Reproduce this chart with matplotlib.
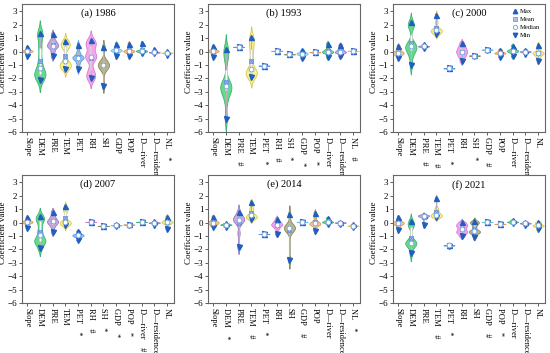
import numpy as np
import matplotlib
matplotlib.use("Agg")
import matplotlib.pyplot as plt
from matplotlib.lines import Line2D
from matplotlib.patches import Rectangle

plt.rcParams['font.family'] = ['Liberation Serif', 'DejaVu Serif']

variables = ["Slope", "DEM", "PRE", "TEM", "PET", "RH", "SH", "GDP", "POP",
             "D\u2014river", "D\u2014residence", "NL"]
titles = ["(a) 1986", "(b) 1993", "(c) 2000", "(d) 2007", "(e) 2014", "(f) 2021"]

# significance markers appended under each tick label
sig_1986 = ["", "", "", "", "", "", "", "", "", "", "", "*"]
sig_1993 = ["", "", "#", "", "*", "#", "*", "*", "*", "", "", "#"]
sig_2000 = ["", "", "#", "#", "*", "", "*", "#", "", "", "", ""]
sig_2007 = ["", "", "", "", "*", "#", "*", "*", "*", "#", "", ""]
sig_2014 = ["", "*", "", "#", "*", "", "", "#", "", "", "", "*"]
sig_2021 = ["", "", "", "#", "*", "", "", "#", "*", "", "", ""]

# coefficient samples per variable
coef_1986 = [
    [0.35, 0.1, 0.05, 0.05, 0.0, -0.05, -0.3],
    [1.4, 1.2, 0.3, -0.6, -1.25, -1.6, -1.7, -1.8, -2.1],
    [1.3, 0.9, 0.7, 0.6, 0.45, 0.4, 0.3, 0.0, -0.35],
    [0.8, 0.6, 0.45, 0.3, -0.7, -0.9, -1.05, -1.1, -1.3],
    [0.5, 0.0, -0.3, -0.4, -0.45, -0.5, -0.6, -0.9, -1.3],
    [0.85, 0.6, 0.4, -0.2, -0.4, -0.5, -1.4, -1.8, -2.0],
    [0.35, -0.6, -0.8, -0.9, -1.0, -1.1, -1.2, -1.4, -2.55],
    [0.6, 0.3, 0.15, 0.1, 0.1, 0.05, -0.05, -0.35],
    [0.6, 0.3, 0.1, 0.05, 0.05, 0.0, -0.1, -0.35],
    [0.65, 0.1, 0.05, 0.05, 0.05, 0.05, 0.0, -0.1],
    [0.2, 0.0, -0.03, -0.05, -0.05, -0.07, -0.1],
    [0.05, -0.05, -0.08, -0.1, -0.1, -0.12, -0.25],
]
coef_1993 = [
    [0.4, 0.2, 0.1, 0.05, 0.05, 0.0, -0.1, -0.4],
    [0.2, 0.0, -0.6, -2.2, -2.5, -2.6, -2.7, -2.8, -3.0, -3.6, -5.0],
    [0.36, 0.35, 0.35, 0.34],
    [1.1, 0.7, 0.2, -0.5, -1.3, -1.5, -1.6, -1.7, -1.9],
    [-1.04, -1.05, -1.05, -1.06],
    [0.06, 0.05, 0.05, 0.04],
    [-0.19, -0.2, -0.2, -0.21],
    [0.1, -0.05, -0.1, -0.15, -0.2, -0.25, -0.5],
    [-0.04, -0.05, -0.05, -0.06],
    [0.6, 0.2, 0.05, 0.0, -0.05, -0.1, -0.4],
    [0.5, 0.25, 0.1, 0.0, -0.05, -0.1, -0.35],
    [0.06, 0.05, 0.05, 0.04],
]
coef_2000 = [
    [0.45, 0.1, 0.0, -0.05, -0.1, -0.15, -0.2, -0.3, -0.45],
    [2.2, 2.0, 1.8, 0.7, 0.5, 0.4, 0.3, 0.2, 0.0, -0.3, -1.0],
    [0.55, 0.45, 0.42, 0.4, 0.38, 0.35, 0.25],
    [2.75, 2.2, 1.8, 1.65, 1.6, 1.55, 1.5, 1.4, 1.3],
    [-1.24, -1.25, -1.25, -1.26],
    [0.65, 0.4, 0.25, 0.1, 0.0, -0.1, -0.25, -0.4, -0.7],
    [-0.29, -0.3, -0.3, -0.31],
    [0.16, 0.15, 0.15, 0.14],
    [0.15, 0.05, -0.05, -0.1, -0.12, -0.15, -0.4],
    [0.45, 0.15, 0.1, 0.05, 0.0, -0.05, -0.35],
    [0.15, 0.05, 0.02, 0.0, -0.02, -0.05, -0.15],
    [0.5, 0.2, 0.0, -0.1, -0.1, -0.15, -0.25, -0.4, -0.7],
]
coef_2007 = [
    [0.4, 0.2, 0.1, 0.05, 0.05, 0.0, -0.1, -0.4],
    [0.5, 0.3, 0.1, -0.5, -0.95, -1.3, -1.4, -1.45, -1.9],
    [0.8, 0.5, 0.3, 0.15, 0.1, 0.0, -0.1, -0.3, -0.7],
    [1.2, 1.0, 0.85, 0.1, 0.05, 0.0, -0.05, -0.1, -0.2],
    [-0.65, -0.85, -0.9, -0.95, -1.0, -1.05, -1.3],
    [0.06, 0.05, 0.05, 0.04],
    [-0.24, -0.25, -0.25, -0.26],
    [-0.1, -0.15, -0.18, -0.2, -0.2, -0.22, -0.25],
    [-0.14, -0.15, -0.15, -0.16],
    [0.06, 0.05, 0.05, 0.04],
    [0.1, 0.03, 0.0, -0.02, -0.05, -0.15],
    [0.45, 0.2, 0.1, 0.05, 0.0, -0.1, -0.45],
]
coef_2014 = [
    [0.45, 0.2, 0.1, 0.05, 0.0, -0.05, -0.1, -0.2, -0.3],
    [-0.05, -0.1, -0.15, -0.15, -0.2, -0.3],
    [0.8, 0.5, 0.35, 0.3, 0.2, 0.1, 0.0, -0.8, -1.8],
    [1.5, 1.1, 0.9, 0.6, 0.55, 0.45, 0.4, 0.35, 0.25],
    [-0.84, -0.85, -0.85, -0.86],
    [0.3, 0.1, 0.0, -0.1, -0.15, -0.2, -0.3, -0.45, -0.85],
    [0.65, -0.2, -0.3, -0.35, -0.4, -0.45, -0.5, -0.6, -2.8],
    [0.06, 0.05, 0.05, 0.04],
    [0.75, 0.4, 0.1, 0.0, -0.05, -0.1, -0.15, -0.2, -0.6],
    [0.35, 0.15, 0.1, 0.05, 0.03, 0.0, -0.1],
    [0.05, 0.02, 0.0, 0.0, -0.02, -0.1],
    [-0.1, -0.2, -0.22, -0.25, -0.25, -0.3],
]
coef_2021 = [
    [0.4, 0.1, 0.05, 0.0, -0.05, -0.1, -0.15, -0.3, -0.55],
    [0.1, -0.1, -0.3, -1.3, -1.5, -1.55, -1.6, -1.7, -2.3],
    [0.6, 0.55, 0.52, 0.5, 0.5, 0.48, 0.4, -0.2],
    [1.8, 1.1, 0.9, 0.7, 0.6, 0.55, 0.5, 0.45, 0.4],
    [-1.69, -1.7, -1.7, -1.71],
    [0.05, -0.1, -0.2, -0.3, -0.45, -0.6, -0.7, -0.8, -1.0],
    [0.1, 0.0, -0.05, -0.3, -0.6, -0.65, -0.7, -0.8, -1.05],
    [0.06, 0.05, 0.05, 0.04],
    [-0.09, -0.1, -0.1, -0.11],
    [0.2, 0.1, 0.05, 0.05, 0.0, -0.05],
    [0.05, 0.0, -0.05, -0.05, -0.1, -0.2],
    [0.05, -0.05, -0.15, -0.2, -0.25, -0.3, -0.5],
]

panels = [coef_1986, coef_1993, coef_2000, coef_2007, coef_2014, coef_2021]
sigs = [sig_1986, sig_1993, sig_2000, sig_2007, sig_2014, sig_2021]

fill_colors = ["#F9C88F", "#66D98C", "#C9A9DD", "#F8F28C", "#92C5F2", "#F6A6EE",
               "#B8B48E", "#A8E6F2", "#F9C88F", "#77D69A", "#D2A8E4", "#F8F28C"]
edge_colors = ["#E8954A", "#3CB371", "#9B7BBF", "#D8C84A", "#5A9AE0", "#D77BD0",
               "#8A8660", "#66C2DA", "#E8954A", "#3CB371", "#A07BC0", "#D8C84A"]
mark_blue = "#1F5FBF"
mean_face = "#A8C4EE"
mean_edge = "#5B8ED6"
med_edge = "#7FA8E8"

fig = plt.figure(figsize=(5.5, 3.53), dpi=100)
W, H = 550.0, 353.0
lefts = [22, 208, 393]
tops = [4, 175]
aw, ah = 152, 128

half_w = 0.44

for idx, (data, sig, title) in enumerate(zip(panels, sigs, titles)):
    r, c = divmod(idx, 3)
    ax = fig.add_axes([lefts[c] / W, 1 - (tops[r] + ah) / H, aw / W, ah / H])
    for i, vals in enumerate(data):
        v = np.asarray(vals, dtype=float)
        sd = v.std()
        bw = max(0.32 * sd, 0.008)
        grid = np.linspace(v.min() - 2.3 * bw, v.max() + 2.3 * bw, 300)
        dens = np.exp(-0.5 * ((grid[:, None] - v[None, :]) / bw) ** 2).sum(axis=1)
        dens = dens / dens.max() * half_w
        ax.fill_betweenx(grid, i - dens, i + dens, facecolor=fill_colors[i],
                         edgecolor=edge_colors[i], linewidth=0.6, zorder=2)
        # whisker line and inner box
        ax.plot([i, i], [v.min(), v.max()], color="#B5B5B5", lw=0.8, zorder=3)
        q1, q3 = np.percentile(v, [25, 75])
        ax.add_patch(Rectangle((i - 0.06, q1), 0.12, q3 - q1, facecolor="white",
                               edgecolor="#C8C8C8", lw=0.4, zorder=3))
        ax.plot(i, v.max(), marker="^", ms=3.6, color=mark_blue, mec=mark_blue, zorder=5)
        ax.plot(i, v.min(), marker="v", ms=3.6, color=mark_blue, mec=mark_blue, zorder=5)
        ax.plot(i, v.mean(), marker="s", ms=3.0, mfc=mean_face, mec=mean_edge, mew=0.5, zorder=6)
        ax.plot(i, v.mean(), marker="x", ms=2.6, color=mean_edge, mew=0.5, zorder=6)
        ax.plot(i, np.median(v), marker="h", ms=3.8, mfc="white", mec=med_edge, mew=0.7, zorder=7)

    ax.set_xlim(-0.4, 11.55)
    ax.set_ylim(-6, 3.55)
    ax.set_yticks(np.arange(-6, 4, 1))
    ax.set_yticklabels([("\u2212%d" % -t) if t < 0 else str(t) for t in range(-6, 4)], fontsize=6.5)
    ax.set_xticks(np.arange(len(variables)))
    labs = [v + ("    " + s if s else "") for v, s in zip(variables, sig)]
    ax.set_xticklabels(labs, rotation=-90, fontsize=6)
    ax.tick_params(axis="both", direction="out", length=2.2, width=0.6, pad=1.2, color="#444444")
    for sp in ax.spines.values():
        sp.set_color("#666666")
        sp.set_linewidth(0.8)
    ax.set_ylabel("Coefficient value", fontsize=6.5)
    ax.yaxis.set_label_coords(-0.098, 0.55)
    ax.text(0.5, 0.925, title, transform=ax.transAxes, ha="center", va="center", fontsize=7.5)

    if idx == 2:
        handles = [
            Line2D([], [], ls="none", marker="^", ms=3.2, color=mark_blue),
            Line2D([], [], ls="none", marker="s", ms=2.8, mfc=mean_face, mec=mean_edge, mew=0.5),
            Line2D([], [], ls="none", marker="h", ms=3.4, mfc="white", mec=med_edge, mew=0.7),
            Line2D([], [], ls="none", marker="v", ms=3.2, color=mark_blue),
        ]
        ax.legend(handles, ["Max", "Mean", "Median", "Min"], loc="upper right",
                  fontsize=4.8, frameon=False, handlelength=1.0, handletextpad=0.3,
                  labelspacing=0.35, borderaxespad=0.3)

fig.savefig("out.png", dpi=100)
